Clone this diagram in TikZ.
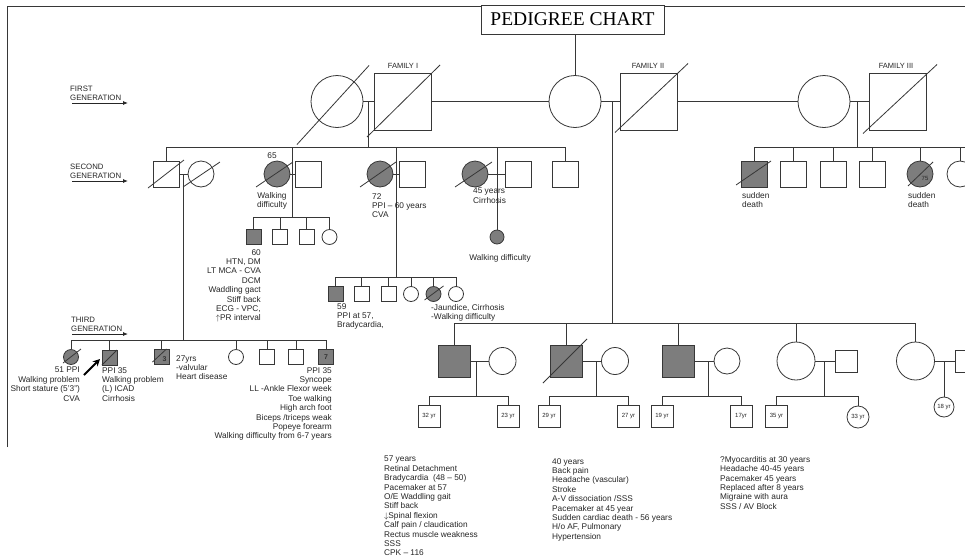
\documentclass[tikz,border=0pt]{standalone}
\usepackage{fontspec}
\setmainfont{Liberation Sans}
\newfontfamily\titlefont{Liberation Serif}
\usetikzlibrary{arrows.meta}
\definecolor{lc}{RGB}{55,55,55}
\definecolor{gfill}{RGB}{125,125,125}
\newcommand\dz[5]{\draw[ln] ([shift={(#2,#3)}]#1.center) -- ([shift={(#4,#5)}]#1.center);}
\begin{document}
\begin{tikzpicture}[x=1pt,y=-1pt,
  ln/.style={draw=lc,line width=0.8pt},
  sqr/.style={rectangle,draw=lc,line width=0.8pt,minimum size=#1,inner sep=0pt},
  cir/.style={circle,draw=lc,line width=0.8pt,minimum size=#1,inner sep=0pt},
  aff/.style={fill=gfill},
  txt/.style={font=\fontsize{8.3}{9.4}\selectfont,inner sep=0pt,text=black!85},
  gen/.style={font=\fontsize{7.8}{9}\selectfont,inner sep=0pt,align=left,anchor=north west,text=black!85},
  fam/.style={font=\fontsize{7.5}{9}\selectfont,inner sep=0pt,text=black!85},
  smalltxt/.style={font=\fontsize{6}{7}\selectfont,text=black!85},
  garrow/.style={draw=black!85,line width=0.8pt,-{Latex[length=5pt,width=4pt]}},
]
\useasboundingbox (0,0) rectangle (965,555);
\clip (0,0) rectangle (965,555);
\fill[white] (0,0) rectangle (965,555);

% frame
\coordinate (fr1) at (7,447); \coordinate (fr2) at (7,6); \coordinate (fr3) at (965,6);
\draw[ln] (fr1) -- (fr2) -- (fr3);

% title
\node[draw=lc,fill=white,line width=0.8pt,minimum width=183pt,minimum height=29pt,inner sep=0pt,
      font=\titlefont\fontsize{19.5}{20}\selectfont] (title) at (572.5,19.5) {PEDIGREE CHART};

% generation labels
\node[gen] (g1) at (70,86) {FIRST\\GENERATION};
\node[gen] (g2) at (70,164) {SECOND\\GENERATION};
\node[gen] (g3) at (71,317) {THIRD\\GENERATION};
\coordinate (ga1) at (72,103); \coordinate (gb1) at (128,103);
\coordinate (ga2) at (72,181); \coordinate (gb2) at (128,181);
\coordinate (ga3) at (72,334); \coordinate (gb3) at (128,334);
\draw[garrow] (ga1) -- (gb1);
\draw[garrow] (ga2) -- (gb2);
\draw[garrow] (ga3) -- (gb3);

% ---------- first generation ----------
\node[cir=52] (F1w) at (337,101.5) {};
\node[sqr=57] (F1h) at (402.5,101.5) {};
\node[cir=52] (F2w) at (575,101.5) {};
\node[sqr=57] (F2h) at (649,101.5) {};
\node[cir=52] (F3w) at (824,101.5) {};
\node[sqr=57] (F3h) at (898,101.5) {};
\dz{F1w}{-40}{43}{32}{-36}
\dz{F1h}{-35.5}{35.5}{37.5}{-36.5}
\dz{F2h}{-34}{31}{39}{-38}
\dz{F3h}{-35}{32}{39}{-37}
\draw[ln] (F1w.east) -- (F1h.west);
\draw[ln] (F1h.east) -- (F2w.west);
\draw[ln] (F2w.east) -- (F2h.west);
\draw[ln] (F2h.east) -- (F3w.west);
\draw[ln] (F3w.east) -- (F3h.west);
\draw[ln] (F2w.north |- title.south) -- (F2w.north);
\node[fam] (lf1) at (403,66) {FAMILY I};
\node[fam] (lf2) at (648,66) {FAMILY II};
\node[fam] (lf3) at (896,66) {FAMILY III};

\coordinate (m1) at (368,101.5); \coordinate (s1) at (368,147);
\coordinate (m2) at (612,101.5); \coordinate (s2) at (612,323);
\coordinate (m3) at (857,101.5); \coordinate (s3) at (857,147);
\draw[ln] (m1) -- (s1);
\draw[ln] (m2) -- (s2);
\draw[ln] (m3) -- (s3);

% ---------- second generation, family I ----------
\node[sqr=26] (A1) at (166,174) {};
\node[cir=26] (A1w) at (201,174) {};
\node[cir=26,aff] (B1) at (277,174) {};
\node[sqr=26] (B1h) at (308,174) {};
\node[cir=26,aff] (C1) at (380,174) {};
\node[sqr=26] (C1h) at (412,174) {};
\node[cir=26,aff] (D1) at (475,174) {};
\node[sqr=26] (D1h) at (518,174) {};
\node[sqr=26] (E1) at (565,174) {};
\dz{A1}{-18}{14}{18}{-14}
\dz{A1w}{-18}{13}{19}{-12}
\dz{B1}{-21}{13}{16}{-12}
\dz{C1}{-20}{13}{16}{-12}
\dz{D1}{-20}{13}{17}{-12}
\draw[ln] (A1.north) -- (A1.north |- s1) -- (E1.north |- s1) -- (E1.north);
\draw[ln] (A1.east) -- (A1w.west);
\draw[ln] (B1.east) -- (B1h.west);
\draw[ln] (C1.east) -- (C1h.west);
\draw[ln] (D1.east) -- (D1h.west);
\coordinate (b1t) at (292,147); \coordinate (b1s) at (292,217);
\coordinate (c1t) at (396,147); \coordinate (c1s) at (396,277);
\coordinate (d1t) at (497,147);
\coordinate (a1m) at (183,174); \coordinate (a1s) at (183,340);
\draw[ln] (b1t) -- (b1s);
\draw[ln] (c1t) -- (c1s);
\draw[ln] (a1m) -- (a1s);

\node[txt] (t65) at (272,156) {65};
\node[txt,align=center,anchor=north] (tB1) at (272,192) {Walking\\difficulty};
\node[txt,align=left,anchor=north west] (tC1) at (372,193) {72\\PPI – 60 years\\CVA};
\node[txt,align=left,anchor=north west] (tD1) at (473,188) {45 years\\Cirrhosis};

% children of B1
\node[sqr=15,aff] (B2a) at (253.5,237) {};
\node[sqr=15] (B2b) at (280,237) {};
\node[sqr=15] (B2c) at (306.5,237) {};
\node[cir=15] (B2d) at (329.5,237) {};
\draw[ln] (B2a.north) -- (B2a.north |- b1s) -- (B2d.north |- b1s) -- (B2d.north);
\draw[ln] (B2b.north) -- (B2b.north |- b1s);
\draw[ln] (B2c.north) -- (B2c.north |- b1s);
\node[txt,align=right,anchor=north east] (tB2a) at (261,249)
 {60\\HTN, DM\\LT MCA - CVA\\DCM\\Waddling gact\\Stiff back\\ECG - VPC,\\$\uparrow$PR interval};

% children of C1
\node[sqr=15,aff] (C2a) at (335.5,294) {};
\node[sqr=15] (C2b) at (361.5,294) {};
\node[sqr=15] (C2c) at (388.5,294) {};
\node[cir=15] (C2d) at (411,294) {};
\node[cir=15,aff] (C2e) at (433.5,294) {};
\node[cir=15] (C2f) at (456,294) {};
\dz{C2e}{-9}{6}{10}{-8}
\draw[ln] (C2a.north) -- (C2a.north |- c1s) -- (C2f.north |- c1s) -- (C2f.north);
\draw[ln] (C2b.north) -- (C2b.north |- c1s);
\draw[ln] (C2c.north) -- (C2c.north |- c1s);
\draw[ln] (C2d.north) -- (C2d.north |- c1s);
\draw[ln] (C2e.north) -- (C2e.north |- c1s);
\node[txt,align=left,anchor=north west] (tC2a) at (337,303) {59\\PPI at 57,\\Bradycardia,};
\node[txt,align=left,anchor=north west] (tC2e) at (431,304) {-Jaundice, Cirrhosis\\-Walking difficulty};

% child of D1
\node[cir=14,aff] (D1c) at (497,237) {};
\draw[ln] (d1t) -- (D1c.north);
\node[txt] (tD1c) at (500,258) {Walking difficulty};

% ---------- second generation, family III ----------
\node[sqr=26,aff] (G1) at (754,174) {};
\node[sqr=26] (G2) at (793,174) {};
\node[sqr=26] (G3) at (833,174) {};
\node[sqr=26] (G4) at (872,174) {};
\node[cir=26,aff] (G5) at (920,174) {};
\node[cir=26] (G6) at (960,174) {};
\dz{G1}{-18}{11}{17}{-13}
\dz{G5}{-12}{12}{13}{-12}
\coordinate (s3r) at (966,147);
\draw[ln] (G1.north) -- (G1.north |- s3) -- (s3r);
\draw[ln] (G2.north) -- (G2.north |- s3);
\draw[ln] (G3.north) -- (G3.north |- s3);
\draw[ln] (G4.north) -- (G4.north |- s3);
\draw[ln] (G5.north) -- (G5.north |- s3);
\draw[ln] (G6.north) -- (G6.north |- s3);
\node[smalltxt,inner sep=0pt] (t75) at (925,178) {75};
\node[txt,align=left,anchor=north west] (tG1) at (742,192) {sudden\\death};
\node[txt,align=left,anchor=north west] (tG5) at (908,192) {sudden\\death};

% ---------- third generation, family I ----------
\node[cir=15,aff] (A2a) at (71,357) {};
\node[sqr=15,aff] (A2b) at (109.5,357.5) {};
\node[sqr=15,aff] (A2c) at (161.5,357) {};
\node[cir=15] (A2d) at (236,357) {};
\node[sqr=15] (A2e) at (267,357) {};
\node[sqr=15] (A2f) at (296,357) {};
\node[sqr=15,aff,font=\fontsize{7}{8}\selectfont\bfseries,text=black!80] (A2g) at (326,357) {7};
\dz{A2a}{-8}{6}{10}{-8}
\dz{A2b}{-7.5}{7.5}{7.5}{-7.5}
\dz{A2c}{-9}{5}{5}{-8}
\node[font=\fontsize{7}{8}\selectfont\bfseries,text=black!80,inner sep=0pt] (t3) at (164.5,359.5) {3};
\draw[ln] (A2a.north) -- (A2a.north |- a1s) -- (A2g.north |- a1s) -- (A2g.north);
\draw[ln] (A2b.north) -- (A2b.north |- a1s);
\draw[ln] (A2c.north) -- (A2c.north |- a1s);
\draw[ln] (A2d.north) -- (A2d.north |- a1s);
\draw[ln] (A2e.north) -- (A2e.north |- a1s);
\draw[ln] (A2f.north) -- (A2f.north |- a1s);
\coordinate (pa) at (84,375); \coordinate (pb) at (100,359);
\draw[black,line width=1.8pt,-{Stealth[length=7pt,width=7pt]}] (pa) -- (pb);

\node[txt,align=right,anchor=north east] (tA2a) at (80,367)
 {51 PPI\\Walking problem\\Short stature (5'3")\\CVA};
\node[txt,align=left,anchor=north west] (tA2b) at (102,367)
 {PPI 35\\Walking problem\\(L) ICAD\\Cirrhosis};
\node[txt,align=left,anchor=north west] (tA2c) at (176,355)
 {27yrs\\-valvular\\Heart disease};
\node[txt,align=right,anchor=north east] (tA2g) at (332,367)
 {PPI 35\\Syncope\\LL -Ankle Flexor week\\Toe walking\\High arch foot\\Biceps /triceps weak\\Popeye forearm\\Walking difficulty from 6-7 years};

% ---------- third generation, family II ----------
\node[sqr=32,aff] (H1) at (454,361) {};
\node[cir=27] (H1w) at (502.5,361) {};
\node[sqr=32,aff] (H2) at (566.5,361) {};
\node[cir=27] (H2w) at (615,361) {};
\node[sqr=32,aff] (H3) at (678.5,361) {};
\node[cir=26] (H3w) at (727,361) {};
\node[cir=38] (H4) at (796,361) {};
\node[sqr=22] (H4h) at (846,361) {};
\node[cir=38] (H5) at (915.5,361) {};
\node[sqr=22] (H5h) at (966,361) {};
\dz{H2}{-23.5}{22}{20.5}{-22}
\draw[ln] (H1.north) -- (H1.north |- s2) -- (H5.north |- s2) -- (H5.north);
\draw[ln] (H2.north) -- (H2.north |- s2);
\draw[ln] (H3.north) -- (H3.north |- s2);
\draw[ln] (H4.north) -- (H4.north |- s2);
\draw[ln] (H1.east) -- (H1w.west);
\draw[ln] (H2.east) -- (H2w.west);
\draw[ln] (H3.east) -- (H3w.west);
\draw[ln] (H4.east) -- (H4h.west);
\draw[ln] (H5.east) -- (H5h.west);
\coordinate (h1m) at (476,361); \coordinate (h1s) at (476,396);
\coordinate (h2m) at (596,361); \coordinate (h2s) at (596,396);
\coordinate (h3m) at (708,361); \coordinate (h3s) at (708,396);
\coordinate (h4m) at (824,361); \coordinate (h4s) at (824,396);
\coordinate (h5m) at (944,361);
\draw[ln] (h1m) -- (h1s);
\draw[ln] (h2m) -- (h2s);
\draw[ln] (h3m) -- (h3s);
\draw[ln] (h4m) -- (h4s);

\node[sqr=22,smalltxt] (H1a) at (429,416.5) {32 yr};
\node[sqr=22,smalltxt] (H1b) at (508,416.5) {23 yr};
\node[sqr=22,smalltxt] (H2a) at (549,416.5) {29 yr};
\node[sqr=22,smalltxt] (H2b) at (628.5,416.5) {27 yr};
\node[sqr=22,smalltxt] (H3a) at (662,416.5) {19 yr};
\node[sqr=22,smalltxt] (H3b) at (741,416.5) {17yr};
\node[sqr=22,smalltxt] (H4a) at (776.5,416.5) {35 yr};
\node[cir=22,smalltxt] (H4b) at (858,417) {33 yr};
\node[cir=20,smalltxt] (H5a) at (944,407) {18 yr};
\draw[ln] (H1a.north) -- (H1a.north |- h1s) -- (H1b.north |- h1s) -- (H1b.north);
\draw[ln] (H2a.north) -- (H2a.north |- h2s) -- (H2b.north |- h2s) -- (H2b.north);
\draw[ln] (H3a.north) -- (H3a.north |- h3s) -- (H3b.north |- h3s) -- (H3b.north);
\draw[ln] (H4a.north) -- (H4a.north |- h4s) -- (H4b.north |- h4s) -- (H4b.north);
\draw[ln] (h5m) -- (H5a.north);

% ---------- notes ----------
\node[txt,align=left,anchor=north west] (n1) at (384,456)
 {57 years\\Retinal Detachment\\Bradycardia\ \ (48 – 50)\\Pacemaker at 57\\O/E Waddling gait\\Stiff back\\$\downarrow$Spinal flexion\\Calf pain / claudication\\Rectus muscle weakness\\SSS\\CPK – 116};
\node[txt,align=left,anchor=north west] (n2) at (552,458)
 {40 years\\Back pain\\Headache (vascular)\\Stroke\\A-V dissociation /SSS\\Pacemaker at 45 year\\Sudden cardiac death - 56 years\\H/o AF, Pulmonary\\Hypertension};
\node[txt,align=left,anchor=north west] (n3) at (720,456)
 {?Myocarditis at 30 years\\Headache 40-45 years\\Pacemaker 45 years\\Replaced after 8 years\\Migraine with aura\\SSS / AV Block};
\end{tikzpicture}
\end{document}
